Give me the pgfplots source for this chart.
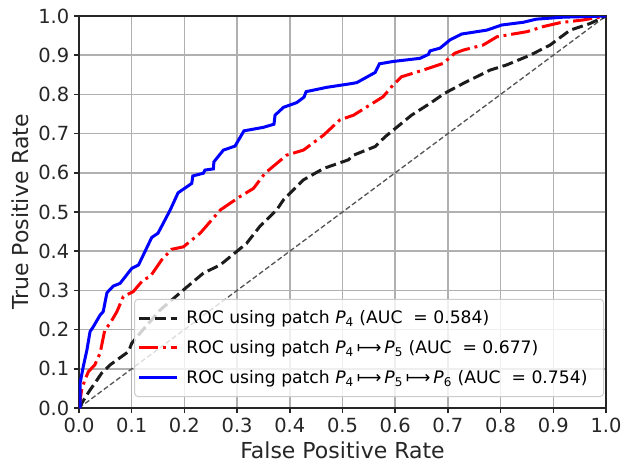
\documentclass[border=0pt]{standalone}
\usepackage{fontspec}
\setmainfont{DejaVu Sans}
\usepackage{pgfplots}
\pgfplotsset{compat=1.18}

\definecolor{gridgray}{HTML}{B0B0B0}
\definecolor{spine}{HTML}{262626}
\definecolor{diaggray}{HTML}{555555}
\definecolor{rocblack}{HTML}{1C1C1C}
\definecolor{legframe}{HTML}{CCCCCC}

\newcommand{\tickfont}{\fontsize{14.6}{16}\selectfont}
\newcommand{\labfont}{\fontsize{16.5}{18}\selectfont}
\newcommand{\legfont}{\fontsize{12.9}{15}\selectfont}
\newcommand{\Pn}[1]{{\itshape P}\textsubscript{#1}}
\newcommand{\mapsarrow}{\,⟼\,}

% ROC curves (false positive rate, true positive rate)
\pgfplotstableread{
fpr tpr
0 0
0.011 0.025
0.021 0.046
0.030 0.063
0.043 0.089
0.059 0.110
0.094 0.144
0.100 0.165
0.116 0.191
0.154 0.250
0.198 0.301
0.236 0.344
0.268 0.365
0.299 0.399
0.318 0.420
0.343 0.463
0.375 0.505
0.388 0.531
0.426 0.582
0.464 0.611
0.511 0.633
0.521 0.645
0.562 0.667
0.581 0.692
0.631 0.747
0.666 0.777
0.694 0.803
0.729 0.828
0.780 0.862
0.811 0.875
0.856 0.900
0.894 0.926
0.932 0.964
0.970 0.981
1 1
}\rocA

\pgfplotstableread{
fpr tpr
0 0
0.005 0.046
0.011 0.071
0.018 0.093
0.030 0.110
0.040 0.140
0.049 0.199
0.059 0.216
0.072 0.246
0.084 0.284
0.103 0.297
0.122 0.327
0.135 0.335
0.157 0.378
0.176 0.405
0.198 0.411
0.230 0.446
0.268 0.505
0.305 0.539
0.331 0.560
0.353 0.599
0.394 0.645
0.426 0.658
0.464 0.696
0.495 0.735
0.521 0.747
0.552 0.773
0.577 0.794
0.596 0.824
0.612 0.845
0.653 0.862
0.691 0.879
0.713 0.905
0.729 0.913
0.767 0.926
0.793 0.947
0.850 0.960
0.881 0.973
0.913 0.983
0.957 0.990
1 1
}\rocB

\pgfplotstableread{
fpr tpr
0 0
0.002 0.003
0.002 0.063
0.008 0.105
0.015 0.148
0.021 0.195
0.027 0.207
0.040 0.237
0.046 0.246
0.053 0.294
0.065 0.311
0.078 0.318
0.100 0.356
0.113 0.365
0.138 0.435
0.150 0.446
0.173 0.505
0.188 0.549
0.214 0.573
0.216 0.592
0.236 0.599
0.239 0.607
0.255 0.610
0.256 0.628
0.274 0.658
0.296 0.668
0.313 0.707
0.350 0.716
0.370 0.724
0.372 0.747
0.388 0.767
0.413 0.779
0.427 0.793
0.431 0.807
0.470 0.818
0.514 0.827
0.527 0.830
0.562 0.856
0.570 0.878
0.596 0.884
0.647 0.892
0.663 0.902
0.666 0.911
0.685 0.918
0.704 0.939
0.726 0.954
0.774 0.964
0.802 0.977
0.843 0.984
0.868 0.992
0.919 0.997
1 1
}\rocC

\begin{document}
\begin{tikzpicture}
\begin{axis}[
  name=roc,
  scale only axis,
  width=395.25pt, height=294pt,
  xmin=0, xmax=1, ymin=0, ymax=1,
  xtick={0,0.1,0.2,0.3,0.4,0.5,0.6,0.7,0.8,0.9,1},
  ytick={0,0.1,0.2,0.3,0.4,0.5,0.6,0.7,0.8,0.9,1},
  /pgf/number format/.cd, fixed, fixed zerofill, precision=1, assume math mode=true,
  /pgfplots/.cd,
  tick label style={font=\tickfont, text=spine},
  label style={font=\labfont, text=spine},
  xlabel={False Positive Rate},
  ylabel={True Positive Rate},
  grid=major,
  grid style={gridgray, line width=1.1pt},
  axis line style={spine, line width=1.1pt},
  tick style={spine, line width=1.1pt},
  tick align=outside, tick pos=left,
  major tick length=3.75pt,
  legend style={at={(1,0)}, anchor=south east, xshift=-1.5pt, yshift=8.25pt,
    font=\legfont, fill=white, fill opacity=0.8, draw opacity=1, text opacity=1,
    draw=legframe, line width=0.75pt, rounded corners=2.5pt,
    inner xsep=2pt, inner ysep=6.5pt, row sep=7pt},
  legend cell align=left,
  legend image code/.code={\draw[#1] (0pt,0pt) -- (28.5pt,0pt); \path (32.5pt,0pt);},
]
\addplot[diaggray, line width=1pt, dash pattern=on 3.8pt off 2pt, forget plot]
  coordinates {(0,0) (1,1)};
\addplot[rocblack, line width=2.25pt, dash pattern=on 8.3pt off 3.6pt] table[x=fpr, y=tpr] {\rocA};
\addplot[red, line width=2.25pt, dash pattern=on 14.4pt off 3.6pt on 2.2pt off 3.6pt] table[x=fpr, y=tpr] {\rocB};
\addplot[blue, line width=2.25pt] table[x=fpr, y=tpr] {\rocC};
\legend{ROC using patch \Pn{4} (AUC~ = 0.584),
        ROC using patch \Pn{4}\mapsarrow\Pn{5} (AUC~ = 0.677),
        ROC using patch \Pn{4}\mapsarrow\Pn{5}\mapsarrow\Pn{6} (AUC~ = 0.754)\hspace*{8pt}}
\end{axis}
\pgfresetboundingbox
\path (roc.south west) ++(-59.25pt,-48pt) rectangle ++(466.5pt,354pt);
\end{tikzpicture}
\end{document}
